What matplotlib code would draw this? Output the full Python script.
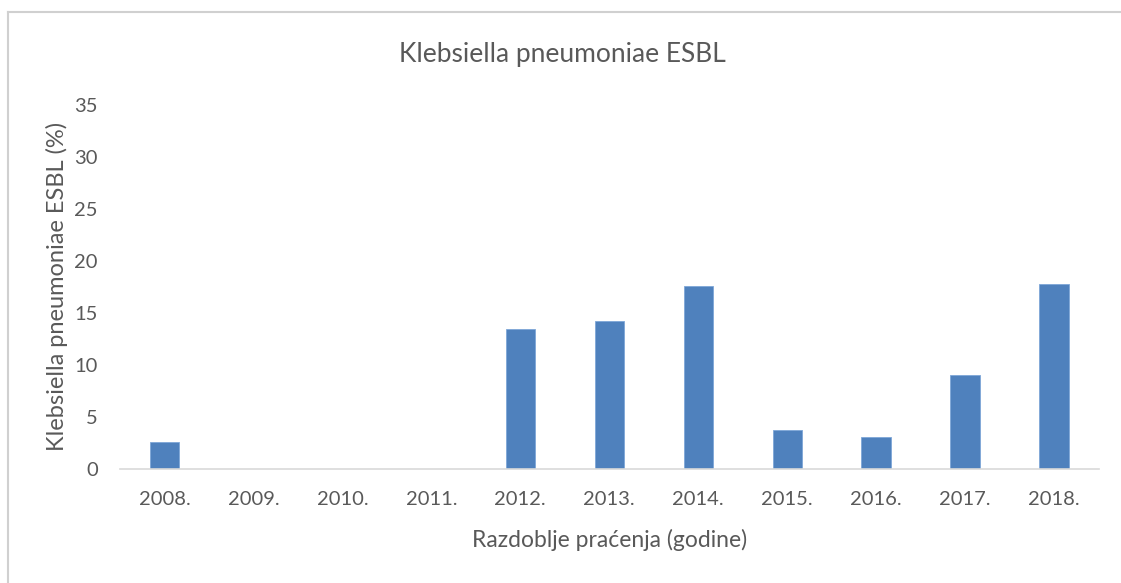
import matplotlib.pyplot as plt
import numpy as np
from matplotlib.lines import Line2D

# Data
years = ['2008.', '2009.', '2010.', '2011.', '2012.', '2013.', '2014.', '2015.', '2016.', '2017.', '2018.']
esbl_pct = [2.6, 0, 0, 0, 13.4, 14.2, 17.6, 3.7, 3.1, 9.0, 17.8]
y_ticks = [0, 5, 10, 15, 20, 25, 30, 35]

plt.rcParams['font.family'] = ['Lato', 'DejaVu Sans']
text_col = '#595959'

fig = plt.figure(figsize=(11.21, 5.83), dpi=100)
ax = fig.add_axes([0.107, 0.196, 0.873, 0.624])

x_axis = np.arange(len(years))
ax.bar(x_axis, esbl_pct, width=0.33, color='#4F81BD', edgecolor='#7EA6D8', linewidth=0.6)

ax.set_xlim(-0.5, len(years) - 0.5)
ax.set_ylim(0, 35)
ax.set_yticks(y_ticks)
ax.set_xticks(x_axis)
ax.set_xticklabels(years)
ax.tick_params(axis='both', length=0, labelsize=14.5, colors=text_col)
ax.tick_params(axis='x', pad=16)
ax.tick_params(axis='y', pad=16)

for side in ['top', 'right', 'left']:
    ax.spines[side].set_visible(False)
ax.spines['bottom'].set_color('#D9D9D9')
ax.spines['bottom'].set_linewidth(1.2)

ax.set_xlabel('Razdoblje praćenja (godine)', fontsize=16.5, color=text_col, labelpad=15)
# y label placed directly in figure coordinates
fig.text(0.051, 0.508, 'Klebsiella pneumoniae ESBL (%)', rotation=90, ha='center', va='center',
         fontsize=17, color=text_col)
fig.text(0.502, 0.907, 'Klebsiella pneumoniae ESBL', ha='center', va='center', fontsize=19, color=text_col)

# chart area outline (left and top edges visible in the reference)
fig.add_artist(Line2D([0.0068, 0.0068], [0.0, 0.98], transform=fig.transFigure, color='#D0D0D0', lw=1.5))
fig.add_artist(Line2D([0.0068, 1.0], [0.98, 0.98], transform=fig.transFigure, color='#D0D0D0', lw=1.5))

fig.savefig('out.png', dpi=100)
